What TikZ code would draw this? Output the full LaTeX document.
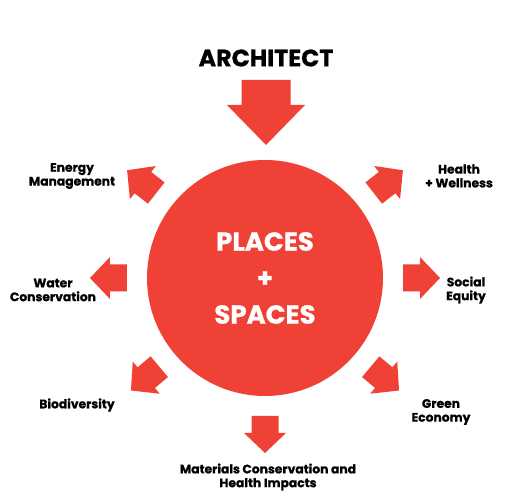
\documentclass[tikz,border=0pt]{standalone}
\usepackage{fontspec}
\setmainfont{Poppins}[BoldFeatures={FakeBold=0.8}]
\definecolor{placered}{RGB}{239,65,54}
\tikzset{
  label/.style={align=center, font=\bfseries\fontsize{12.3}{13.8}\selectfont},
  pics/outarrow/.style={code={
    \fill[placered] (0,-13.5) -- (17,-13.5) -- (17,-21) -- (37,0)
      -- (17,21) -- (17,13.5) -- (0,13.5) -- cycle;}},
  pics/inarrow/.style={code={
    \fill[placered] (0,-24.5) -- (25,-24.5) -- (25,-39) -- (65,0)
      -- (25,39) -- (25,24.5) -- (0,24.5) -- cycle;}}
}
\begin{document}
\begin{tikzpicture}[x=1pt, y=1pt]
  \useasboundingbox (-265,-224) rectangle (246,278);

  % Central circle
  \node[circle, fill=placered, minimum size=236pt, inner sep=0pt,
        text=white, align=center,
        font=\bfseries\fontsize{26}{36.5}\selectfont] (hub) at (0,0)
        {PLACES\\+\\SPACES};

  % Architect on top
  \node[font=\bfseries\fontsize{23.8}{26}\selectfont] (architect) at (1,220) {ARCHITECT};
  \pic[rotate=270] at (1,198) {inarrow};

  % Outgoing arrows
  \foreach \ang in {0, 38, 142, 180, 220, 270, 320}
    \pic[rotate=\ang] at (\ang:138) {outarrow};

  % Labels
  \node[label] (energy) at (-193,102) {Energy\\Management};
  \node[label] (health) at (194,102) {Health\\+ Wellness};
  \node[label] (water) at (-212,-12) {Water\\Conservation};
  \node[label] (social) at (201,-12) {Social\\Equity};
  \node[label] (bio) at (-188,-127) {Biodiversity};
  \node[label] (green) at (176,-134) {Green\\Economy};
  \node[label] (materials) at (3,-199) {Materials Conservation and\\Health Impacts};

\end{tikzpicture}
\end{document}
